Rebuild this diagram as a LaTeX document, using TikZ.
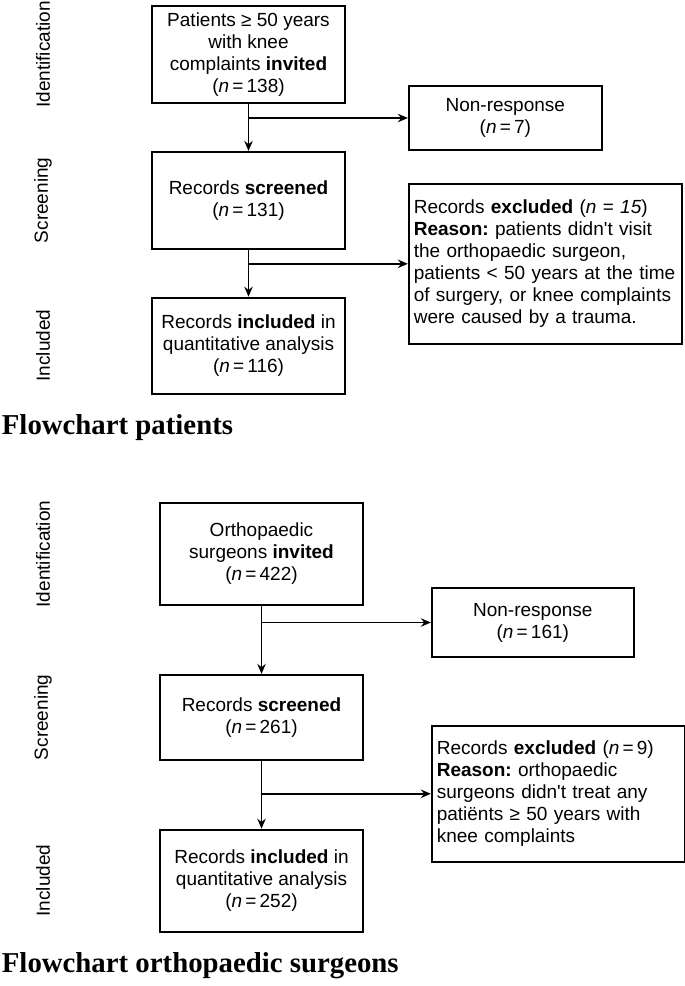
\documentclass[tikz,border=0pt]{standalone}
\usepackage{fontspec}
\setmainfont{Liberation Sans}
\newfontfamily\titlefont{Liberation Serif}
\usetikzlibrary{positioning,arrows.meta}
\frenchspacing

\begin{document}
\begin{tikzpicture}[
  font=\fontsize{9.5pt}{11pt}\selectfont,
  line width=0.9pt,
  box/.style={draw, align=center, inner sep=2.5pt, minimum width=#1},
  note/.style={draw, align=left, inner sep=2.5pt, text width=#1},
  lane/.style={rotate=90, inner sep=0pt},
  head/.style={anchor=west, inner sep=0pt, font=\titlefont\bfseries\fontsize{14.4pt}{16pt}\selectfont},
  arrow/.style={-{Stealth[length=5pt,width=4.2pt]}}
]
\useasboundingbox (0,0) rectangle (342.5pt,-493pt);
\coordinate (lane) at (21.5pt,0);

% patients
\node[box=96.5pt, minimum height=48.5pt] (inv1) at (124.25pt,-27.25pt)
  {Patients ≥ 50 years\\with knee\\complaints \textbf{invited}\\(\textit{n}\,=\,138)};
\node[box=96.5pt, minimum height=48.5pt, below=23.5pt of inv1] (scr1)
  {Records \textbf{screened}\\(\textit{n}\,=\,131)};
\node[box=96.5pt, minimum height=48pt, below=23.5pt of scr1] (inc1)
  {Records \textbf{included} in\\quantitative analysis\\(\textit{n}\,=\,116)};
\node[box=96.5pt, minimum height=32pt, right=31pt of inv1, yshift=-31.75pt] (nr1)
  {Non-response\\(\textit{n}\,=\,7)};
\node[note=131.5pt, minimum height=80pt, right=31pt of scr1, yshift=-31.75pt] (exc1)
  {Records \textbf{excluded} (\textit{n} = \textit{15})\\\textbf{Reason:} patients didn{\textquotesingle}t visit\\the orthopaedic surgeon,\\patients < 50 years at the time\\of surgery, or knee complaints\\were caused by a trauma.};

\node[lane] (id1) at (lane |- inv1) {Identification};
\node[lane] (sc1) at (lane |- scr1) {Screening};
\node[lane] (in1) at (lane |- inc1) {Included};

\draw[arrow] (inv1) -- (scr1);
\draw[arrow] (inv1.south |- nr1) -- (nr1);
\draw[arrow] (scr1) -- (inc1);
\draw[arrow] (scr1.south |- exc1) -- (exc1);

\node[head] (title1) at (0.5pt,-214pt) {Flowchart patients};

% orthopaedic surgeons
\node[box=101.5pt, minimum height=51pt] (inv2) at (130.75pt,-277pt)
  {Orthopaedic\\surgeons \textbf{invited}\\(\textit{n}\,=\,422)};
\node[box=101.5pt, minimum height=42.5pt, below=34pt of inv2] (scr2)
  {Records \textbf{screened}\\(\textit{n}\,=\,261)};
\node[box=101.5pt, minimum height=51pt, below=34pt of scr2] (inc2)
  {Records \textbf{included} in\\quantitative analysis\\(\textit{n}\,=\,252)};
\node[box=101pt, minimum height=34.5pt, right=33.5pt of inv2, yshift=-34.25pt] (nr2)
  {Non-response\\(\textit{n}\,=\,161)};
\node[note=121.5pt, minimum height=68pt, right=33.5pt of scr2, yshift=-38.25pt] (exc2)
  {Records \textbf{excluded} (\textit{n}\,=\,9)\\\textbf{Reason:} orthopaedic\\surgeons didn{\textquotesingle}t treat any\\patiënts ≥ 50 years with\\knee complaints};

\node[lane] (id2) at (lane |- inv2) {Identification};
\node[lane] (sc2) at (lane |- scr2) {Screening};
\node[lane] (in2) at (lane |- inc2) {Included};

\draw[arrow] (inv2) -- (scr2);
\draw[arrow] (inv2.south |- nr2) -- (nr2);
\draw[arrow] (scr2) -- (inc2);
\draw[arrow] (scr2.south |- exc2) -- (exc2);

\node[head] (title2) at (0.5pt,-483pt) {Flowchart orthopaedic surgeons};
\end{tikzpicture}
\end{document}
